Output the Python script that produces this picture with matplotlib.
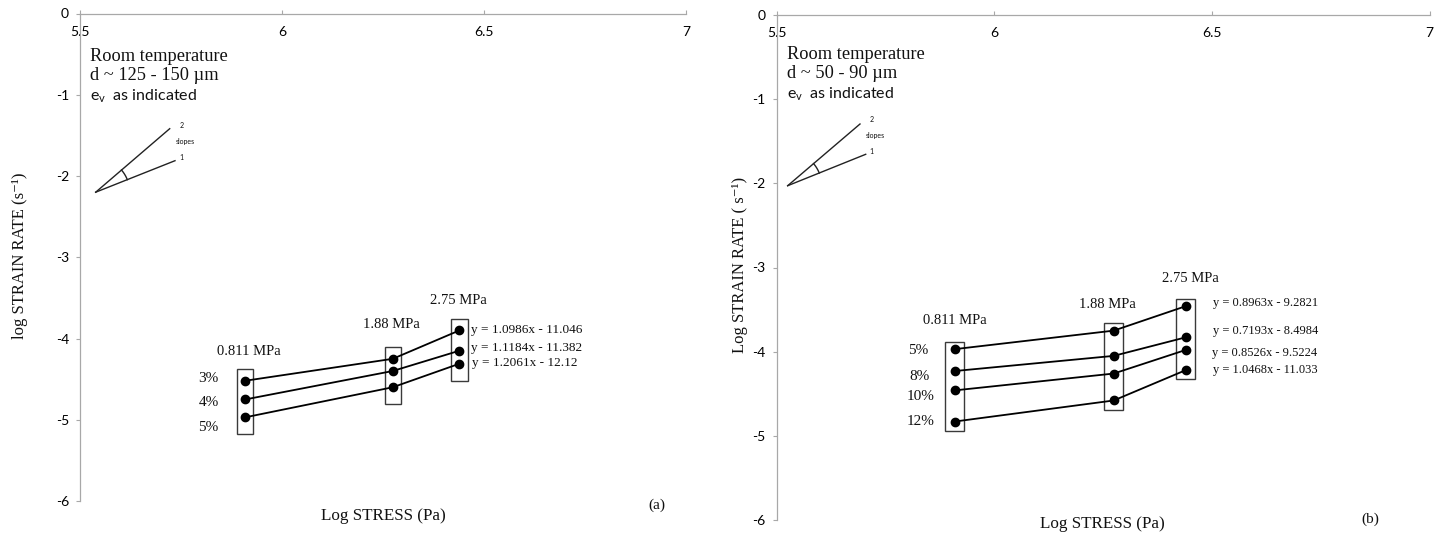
import numpy as np
import matplotlib
matplotlib.use("Agg")
import matplotlib.pyplot as plt
from matplotlib.patches import Rectangle

plt.rcParams['axes.unicode_minus'] = False
plt.rcParams['mathtext.fontset'] = 'custom'
plt.rcParams['mathtext.rm'] = 'Lato'
plt.rcParams['mathtext.it'] = 'Lato:italic'

SERIF = ['Liberation Serif', 'DejaVu Serif']
SANS = ['Lato', 'DejaVu Sans']

# ---------------- data ----------------
stress_mpa = [0.811, 1.88, 2.75]
stress_labels = ['0.811 MPa', '1.88 MPa', '2.75 MPa']
x_ticks = [5.5, 6.0, 6.5, 7.0]
x_tick_labels = ['5.5', '6', '6.5', '7']
y_ticks = [0, -1, -2, -3, -4, -5, -6]

# panel (a): d ~ 125-150 um
a_strain_labels = ['3%', '4%', '5%']
a_rate_3 = [-4.52, -4.25, -3.90]
a_rate_4 = [-4.75, -4.40, -4.15]
a_rate_5 = [-4.97, -4.60, -4.31]
a_fits = ['y = 1.0986x - 11.046', 'y = 1.1184x - 11.382', 'y = 1.2061x - 12.12']

# panel (b): d ~ 50-90 um
b_strain_labels = ['5%', '8%', '10%', '12%']
b_rate_5 = [-3.97, -3.75, -3.46]
b_rate_8 = [-4.23, -4.05, -3.83]
b_rate_10 = [-4.46, -4.26, -3.98]
b_rate_12 = [-4.83, -4.58, -4.22]
b_fits = ['y = 0.8963x - 9.2821', 'y = 0.7193x - 8.4984',
          'y = 0.8526x - 9.5224', 'y = 1.0468x - 11.033']

log_stress = np.log10(np.array(stress_mpa) * 1e6)

W, H = 1443, 537
fig = plt.figure(figsize=(W / 100, H / 100), dpi=100)


def ftext(x, y, s, size, family, ha='left', va='center', **kw):
    fig.text(x / W, 1 - y / H, s, fontsize=size, family=family, ha=ha, va=va,
             color='#111111', **kw)


def setup_axes(ax):
    ax.set_xlim(5.5, 7.0)
    ax.set_ylim(-6, 0)
    ax.patch.set_alpha(0)
    for s in ['right', 'bottom']:
        ax.spines[s].set_visible(False)
    for s in ['top', 'left']:
        ax.spines[s].set_color('#a8a8a8')
        ax.spines[s].set_linewidth(0.9)
    ax.xaxis.tick_top()
    ax.set_xticks(x_ticks)
    ax.set_xticklabels(x_tick_labels)
    ax.set_yticks(y_ticks)
    ax.set_yticklabels([str(v) for v in y_ticks])
    ax.tick_params(axis='x', direction='out', length=3, pad=-20.3,
                   color='#a8a8a8', labelcolor='black', labelsize=10)
    ax.tick_params(axis='y', direction='out', length=3, pad=5,
                   color='#a8a8a8', labelcolor='black', labelsize=10)
    for lab in ax.get_xticklabels() + ax.get_yticklabels():
        lab.set_family(SANS)


def draw_series(ax, series, top_m, bot_m, half_w):
    for ys in series:
        ax.plot(log_stress, ys, color='black', lw=1.3, marker='o', ms=6,
                mfc='black', mec='black', zorder=3)
    arr = np.array(series)
    for i, x in enumerate(log_stress):
        ymax = arr[:, i].max() + top_m
        ymin = arr[:, i].min() - bot_m
        ax.add_patch(Rectangle((x - half_w, ymin), 2 * half_w, ymax - ymin,
                               fill=False, edgecolor='#3a3a3a', lw=1.0, zorder=2))


def draw_slopes(ax, ax_px_w, ax_px_h, origin, upper, lower, r):
    ox, oy = origin
    ax.plot([ox, upper[0]], [oy, upper[1]], color='#222222', lw=1.0,
            transform=ax.transAxes, clip_on=False)
    ax.plot([ox, lower[0]], [oy, lower[1]], color='#222222', lw=1.0,
            transform=ax.transAxes, clip_on=False)
    a1 = np.degrees(np.arctan2((lower[1] - oy) * ax_px_h, (lower[0] - ox) * ax_px_w))
    a2 = np.degrees(np.arctan2((upper[1] - oy) * ax_px_h, (upper[0] - ox) * ax_px_w))
    th = np.radians(np.linspace(a1, a2, 30))
    ax.plot(ox + r * np.cos(th) / ax_px_w, oy + r * np.sin(th) / ax_px_h,
            color='#222222', lw=1.0, transform=ax.transAxes, clip_on=False)


# ---------------- panel (a) ----------------
axL = fig.add_axes([80 / W, 1 - 501 / H, 606 / W, 487.5 / H])
setup_axes(axL)
draw_series(axL, [a_rate_3, a_rate_4, a_rate_5], 0.14, 0.21, 0.02)
draw_slopes(axL, 606, 487.5, (15.7 / 606, 1 - 178.7 / 487.5),
            (89.7 / 606, 1 - 115.2 / 487.5), (95.0 / 606, 1 - 147.2 / 487.5), 34)

ftext(90, 56.7, 'Room temperature', 13.2, SERIF)
ftext(90, 76.0, 'd ~ 125 - 150 µm', 13.2, SERIF)
ftext(90, 96.7, r'e$_\mathrm{v}$  as indicated', 11.5, SANS)
ftext(181.7, 125.5, '2', 5, SANS, ha='center')
ftext(185, 141.7, 'slopes', 5, SANS, ha='center')
ftext(181.7, 157.8, '1', 5, SANS, ha='center')

for (cx, cy), lab in zip([(249, 351.7), (391.5, 324), (458.7, 300.7)], stress_labels):
    ftext(cx, cy, lab, 10.5, SERIF, ha='center')
for cy, lab in zip([379, 403, 427.7], a_strain_labels):
    ftext(208.5, cy, lab, 11, SERIF, ha='center')
for (cx, cy), lab in zip([(470.7, 330), (470.7, 348.3), (472.3, 363.3)], a_fits):
    ftext(cx, cy, lab, 9.5, SERIF)

ftext(20, 256, 'log STRAIN RATE (s⁻¹)', 12, SERIF, ha='center', rotation=90)
ftext(383, 516, 'Log STRESS (Pa)', 12.3, SERIF, ha='center')
ftext(657, 505, '(a)', 11, SERIF, ha='center')

# ---------------- panel (b) ----------------
axR = fig.add_axes([776.7 / W, 1 - 520 / H, 653 / W, 505 / H])
setup_axes(axR)
draw_series(axR, [b_rate_5, b_rate_8, b_rate_10, b_rate_12], 0.09, 0.11, 0.022)
draw_slopes(axR, 653, 505, (11.0 / 653, 1 - 170.7 / 505),
            (83.3 / 653, 1 - 109.0 / 505), (89.0 / 653, 1 - 139.3 / 505), 34)

ftext(786.7, 54.3, 'Room temperature', 13.2, SERIF)
ftext(786.7, 74.0, 'd ~ 50 - 90 µm', 13.2, SERIF)
ftext(786.7, 94.0, r'e$_\mathrm{v}$  as indicated', 11.5, SANS)
ftext(871.7, 120, '2', 5, SANS, ha='center')
ftext(875, 135.7, 'slopes', 5, SANS, ha='center')
ftext(871.7, 151, '1', 5, SANS, ha='center')

for (cx, cy), lab in zip([(955, 320), (1107.5, 305), (1190, 278.3)], stress_labels):
    ftext(cx, cy, lab, 10.5, SERIF, ha='center')
for (cx, cy), lab in zip([(918, 350.7), (920, 376), (921, 396.7), (921, 421.7)], b_strain_labels):
    ftext(cx, cy, lab, 11, SERIF, ha='center')
for (cx, cy), lab in zip([(1213.3, 303.3), (1213.3, 330.7), (1211.7, 352.7), (1213.3, 370)], b_fits):
    ftext(cx, cy, lab, 9, SERIF)

ftext(740, 265, 'Log STRAIN RATE ( s⁻¹)', 12, SERIF, ha='center', rotation=90)
ftext(1102, 524, 'Log STRESS (Pa)', 12.3, SERIF, ha='center')
ftext(1370, 519, '(b)', 11, SERIF, ha='center')

fig.savefig('out.png', dpi=100)
